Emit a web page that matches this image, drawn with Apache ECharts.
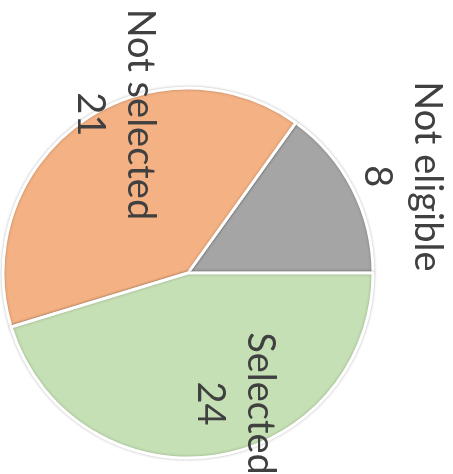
<!DOCTYPE html>
<html>
<head>
<meta charset="utf-8">
<script src="https://cdn.jsdelivr.net/npm/echarts@6/dist/echarts.min.js"></script>
<style>
  html, body { margin: 0; padding: 0; background: #fff; }
  #chart { width: 453px; height: 474px; }
</style>
</head>
<body>
<div id="chart"></div>
<script>
// Outcome counts
const categories = ['Not eligible', 'Not selected', 'Selected'];
const counts = [8, 21, 24];

// Slice fills, in category order
const sliceColors = ['#A5A5A5', '#F4B183', '#C5E0B4'];
// On-screen label shift from each slice's inner anchor, in px
const labelShift = [[129, -53], [-17, -81], [33, 36]];

const chart = echarts.init(document.getElementById('chart'), null, { renderer: 'canvas' });

chart.setOption({
  animation: false,
  series: [{
    type: 'pie',
    center: [188, 273],
    radius: 185,
    startAngle: 0,
    clockwise: false,
    silent: true,
    data: categories.map((name, i) => ({
      name,
      value: counts[i],
      itemStyle: { color: sliceColors[i] }
    })),
    itemStyle: {
      borderColor: '#ffffff',
      borderWidth: 3,
      shadowBlur: 3,
      shadowColor: 'rgba(0,0,0,0.25)'
    },
    label: {
      show: true,
      position: 'inside',
      rotate: -90,
      formatter: '{b}\n{c}',
      fontFamily: 'Lato',
      fontSize: 38,
      lineHeight: 50,
      color: '#404040',
      align: 'center',
      verticalAlign: 'middle'
    },
    labelLine: { show: false },
    // dx/dy act in the label's own (rotated) frame, so turn the screen shift by +90°
    labelLayout: (p) => ({
      dx: labelShift[p.dataIndex][1],
      dy: -labelShift[p.dataIndex][0]
    })
  }]
});
</script>
</body>
</html>
